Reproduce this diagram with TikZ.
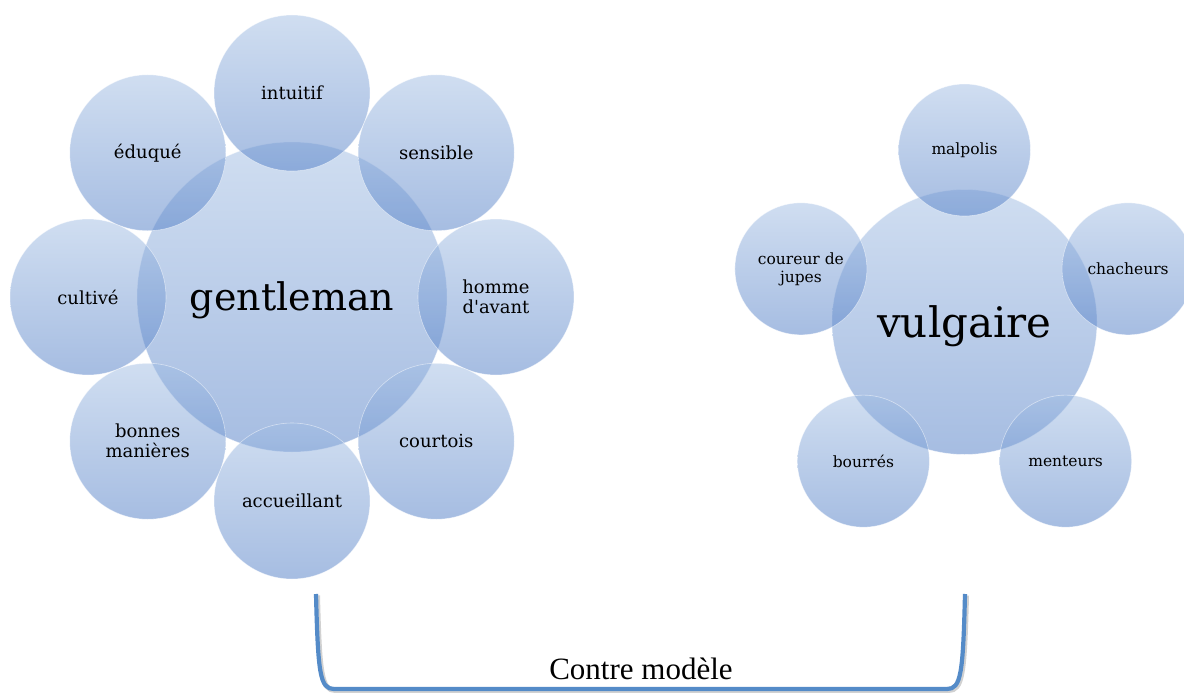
\documentclass[tikz,border=0pt]{standalone}
\usepackage{fontspec}
\setmainfont{Liberation Serif}
\newfontfamily\circfont{DejaVu Serif}
\usetikzlibrary{calc}
\definecolor{ctop}{RGB}{161,189,227}
\definecolor{cbot}{RGB}{77,123,197}
\definecolor{brk}{RGB}{84,139,200}
\tikzset{
  bubble/.style={circle, inner sep=0pt, top color=ctop, bottom color=cbot,
    fill opacity=0.5, text opacity=1, draw=white, draw opacity=0.5, line width=0.6pt,
    align=center, text=black},
  bigG/.style={bubble, minimum size=310pt, font=\circfont\fontsize{38}{42}\selectfont},
  smallG/.style={bubble, minimum size=156pt, font=\circfont\fontsize{18}{20}\selectfont},
  bigV/.style={bubble, minimum size=265pt, font=\circfont\fontsize{42}{46}\selectfont},
  smallV/.style={bubble, minimum size=132pt, font=\circfont\fontsize{15.5}{18}\selectfont},
  brline/.style={draw=brk, line width=4.2pt},
  brshadow/.style={draw=black, draw opacity=0.18, line width=5pt}
}
\begin{document}
\begin{tikzpicture}[x=1pt,y=1pt]
\useasboundingbox (0,0) rectangle (1184,-693);
% gentleman group
\node[bigG] (g) at (292,-297) {};
\node[smallG] (g1) at ($(g)+(90:204)$) {intuitif};
\node[smallG] (g2) at ($(g)+(45:204)$) {sensible};
\node[smallG] (g3) at ($(g)+(0:204)$) {homme\\d'avant};
\node[smallG] (g4) at ($(g)+(-45:204)$) {courtois};
\node[smallG] (g5) at ($(g)+(-90:204)$) {accueillant};
\node[smallG] (g6) at ($(g)+(-135:204)$) {bonnes\\manières};
\node[smallG] (g7) at ($(g)+(180:204)$) {cultivé};
\node[smallG] (g8) at ($(g)+(135:204)$) {éduqué};
\node[font=\circfont\fontsize{38}{42}\selectfont] (gt) at ($(g)+(0,-3)$) {gentleman};
% vulgaire group
\node[bigV] (v) at (964.5,-322) {};
\node[smallV] (v1) at ($(v)+(90:172)$) {malpolis};
\node[smallV] (v2) at ($(v)+(18:172)$) {chacheurs};
\node[smallV] (v3) at ($(v)+(-54:172)$) {menteurs};
\node[smallV] (v4) at ($(v)+(-126:172)$) {bourrés};
\node[smallV] (v5) at ($(v)+(162:172)$) {coureur de\\jupes};
\node[font=\circfont\fontsize{42}{46}\selectfont] (vt) at ($(v)+(0,-4)$) {vulgaire};
% bracket
\coordinate (bl) at (316,-594);
\coordinate (br) at (965,-594);
\coordinate (bll) at (334,-689);
\coordinate (brr) at (947,-689);
\draw[brshadow] ($(bl)+(1.5,-1.5)$) .. controls ($(bl)+(3.5,-80)$) and ($(bl)+(5.5,-96.5)$) .. ($(bll)+(1.5,-1.5)$) -- ($(brr)+(1.5,-1.5)$) .. controls ($(br)+(-2.5,-96.5)$) and ($(br)+(-0.5,-80)$) .. ($(br)+(1.5,-1.5)$);
\draw[brline] (bl) .. controls ($(bl)+(2,-80)$) and ($(bl)+(4,-95)$) .. (bll) -- (brr) .. controls ($(br)+(-4,-95)$) and ($(br)+(-2,-80)$) .. (br);
\node[font=\fontsize{31}{34}\selectfont, anchor=base] (cm) at (641,-679) {Contre modèle};
\end{tikzpicture}
\end{document}
